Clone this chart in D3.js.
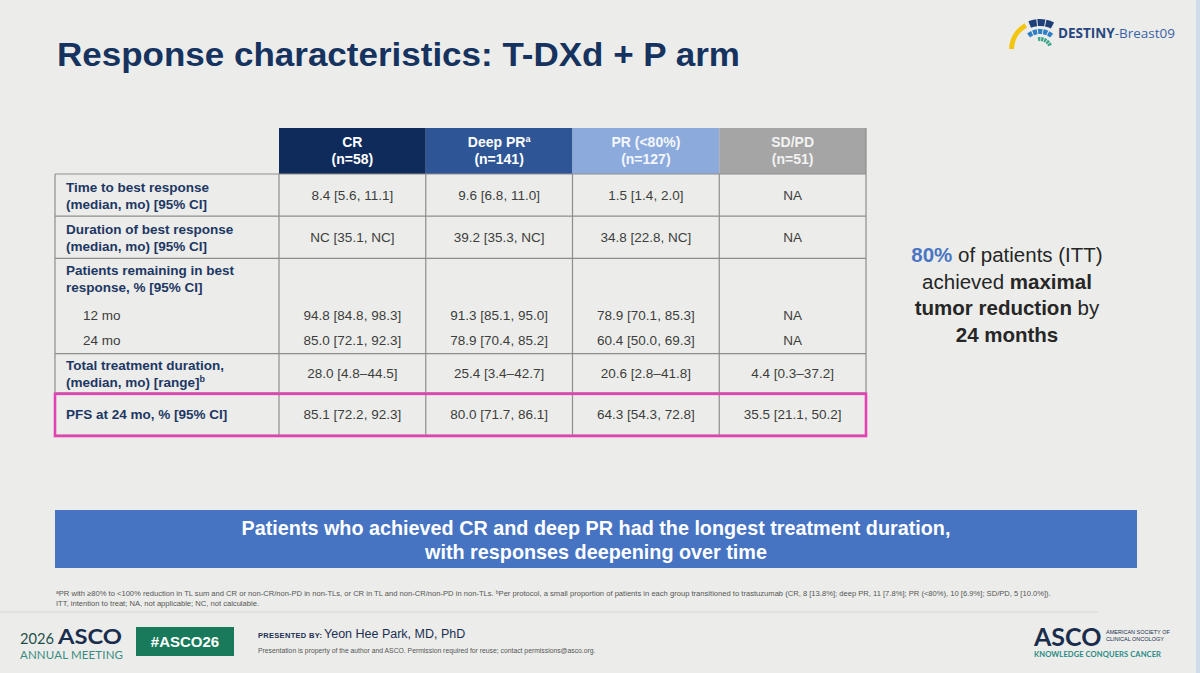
<!DOCTYPE html>
<html>
<head>
<meta charset="utf-8">
<script src="https://cdn.jsdelivr.net/npm/d3@7/dist/d3.min.js"></script>
<style>
  html, body { margin: 0; padding: 0; background: #ecedea; }
  svg { display: block; font-family: "Liberation Sans", Arial, sans-serif; }
</style>
</head>
<body>
<script>
// ---- data ----
var groups = ["CR", "Deep PR", "PR (<80%)", "SD/PD"];
var groupSup = ["", "a", "", ""];
var groupN = [58, 141, 127, 51];
var headerColors = ["#0f2b5b", "#2e5596", "#8caadb", "#a5a5a5"];
var headerText = ["#ffffff", "#ffffff", "#f4f7fc", "#f2f2f2"];

var timeToBest = ["8.4 [5.6, 11.1]", "9.6 [6.8, 11.0]", "1.5 [1.4, 2.0]", "NA"];
var durationBest = ["NC [35.1, NC]", "39.2 [35.3, NC]", "34.8 [22.8, NC]", "NA"];
var remain12 = ["94.8 [84.8, 98.3]", "91.3 [85.1, 95.0]", "78.9 [70.1, 85.3]", "NA"];
var remain24 = ["85.0 [72.1, 92.3]", "78.9 [70.4, 85.2]", "60.4 [50.0, 69.3]", "NA"];
var totalDuration = ["28.0 [4.8\u201344.5]", "25.4 [3.4\u201342.7]", "20.6 [2.8\u201341.8]", "4.4 [0.3\u201337.2]"];
var pfs24 = ["85.1 [72.2, 92.3]", "80.0 [71.7, 86.1]", "64.3 [54.3, 72.8]", "35.5 [21.1, 50.2]"];

var rowLabels = [
  ["Time to best response", "(median, mo) [95% CI]"],
  ["Duration of best response", "(median, mo) [95% CI]"],
  ["Patients remaining in best", "response, % [95% CI]"],
  ["Total treatment duration,", "(median, mo) [range]"],
  ["PFS at 24 mo, % [95% CI]"]
];
var subLabels = ["12 mo", "24 mo"];

// ---- layout ----
var W = 1200, H = 673;
var tableLeft = 55, labelRight = 279, tableRight = 866;
var headTop = 128, headBottom = 174;
// relative row heights (in "line" units)
var rowUnits = [2, 2, 4.52, 1.86, 2];

var svg = d3.select("body").append("svg")
    .attr("width", W).attr("height", H);

svg.append("rect").attr("width", W).attr("height", H).attr("fill", "#ecedea");
// faint blue edge on the right
svg.append("rect").attr("x", W - 4).attr("y", 0).attr("width", 4).attr("height", H)
    .attr("fill", "#bcd0ea").attr("opacity", 0.6);

// title
svg.append("text")
    .attr("x", 57).attr("y", 66)
    .attr("font-size", 33).attr("font-weight", "bold")
    .attr("fill", "#16325f")
    .attr("textLength", 683).attr("lengthAdjust", "spacingAndGlyphs")
    .text("Response characteristics: T-DXd + P arm");

// DESTINY-Breast09 logo
var logo = svg.append("g").attr("transform", "translate(1040,50)");
var arc = d3.arc();
var deg = Math.PI / 180;
logo.append("path").attr("d", arc({innerRadius: 26, outerRadius: 31, startAngle: -88 * deg, endAngle: -30 * deg})).attr("fill", "#f2c511");
[-22, -5, 12].forEach(function (a) {
  logo.append("path").attr("d", arc({innerRadius: 24, outerRadius: 31, startAngle: a * deg, endAngle: (a + 15) * deg})).attr("fill", "#1f3f7a");
});
[-38, -22, -6, 10, 26].forEach(function (a) {
  logo.append("path").attr("d", arc({innerRadius: 16, outerRadius: 21, startAngle: a * deg, endAngle: (a + 13) * deg})).attr("fill", "#2f7fc4");
});
[-10, 6, 22, 38, 54].forEach(function (a) {
  logo.append("path").attr("d", arc({innerRadius: 9, outerRadius: 13, startAngle: a * deg, endAngle: (a + 12) * deg})).attr("fill", "#3aa58a");
});
var lt = svg.append("text").attr("x", 1058).attr("y", 38)
    .attr("font-family", "'Open Sans', sans-serif").attr("font-size", 13.5);
lt.append("tspan").attr("font-weight", "bold").attr("fill", "#27477f").text("DESTINY");
lt.append("tspan").attr("fill", "#3b63a5").text("-Breast09");

// ---- table ----
var x = d3.scaleBand().domain(groups).range([labelRight, tableRight]).paddingInner(0);
var cumUnits = [0];
rowUnits.forEach(function (u, i) { cumUnits.push(cumUnits[i] + u); });
var y = d3.scaleLinear().domain([0, d3.sum(rowUnits)]).range([headBottom, 435]);

var table = svg.append("g");

// header cells
var head = table.selectAll("g.head").data(groups).enter().append("g").attr("class", "head");
head.append("rect")
    .attr("x", function (d) { return x(d); })
    .attr("y", headTop)
    .attr("width", x.bandwidth())
    .attr("height", headBottom - headTop)
    .attr("fill", function (d, i) { return headerColors[i]; });
var ht = head.append("text")
    .attr("text-anchor", "middle")
    .attr("font-size", 14).attr("font-weight", "bold")
    .attr("fill", function (d, i) { return headerText[i]; });
ht.append("tspan")
    .attr("x", function (d) { return x(d) + x.bandwidth() / 2; })
    .attr("y", headTop + 19)
    .text(function (d) { return d; })
  .append("tspan")
    .attr("font-size", 9).attr("dy", -5)
    .text(function (d, i) { return groupSup[i]; });
ht.append("tspan")
    .attr("x", function (d) { return x(d) + x.bandwidth() / 2; })
    .attr("y", headTop + 36)
    .text(function (d, i) { return "(n=" + groupN[i] + ")"; });

// grid lines
var lineColor = "#8d8d8d";
var hLines = cumUnits.map(function (u) { return y(u); });
table.selectAll("line.h").data(hLines).enter().append("line")
    .attr("x1", tableLeft).attr("x2", tableRight)
    .attr("y1", function (d) { return d; }).attr("y2", function (d) { return d; })
    .attr("stroke", lineColor).attr("stroke-width", 1.2);
var vLines = [tableLeft].concat(groups.map(function (g) { return x(g); }));
table.selectAll("line.v").data(vLines).enter().append("line")
    .attr("x1", function (d) { return d; }).attr("x2", function (d) { return d; })
    .attr("y1", headBottom).attr("y2", y(cumUnits[cumUnits.length - 1]))
    .attr("stroke", lineColor).attr("stroke-width", 1.2);
table.append("line")
    .attr("x1", tableRight).attr("x2", tableRight)
    .attr("y1", headTop).attr("y2", y(cumUnits[cumUnits.length - 1]))
    .attr("stroke", lineColor).attr("stroke-width", 1.2);

// row labels
var labelColor = "#1d3764", valueColor = "#3d3d3d";
rowLabels.forEach(function (lines, r) {
  var top = y(cumUnits[r]);
  var t = table.append("text")
      .attr("font-size", 13.5).attr("font-weight", "bold").attr("fill", labelColor);
  var firstBase = (r === 2) ? top + 17 : (lines.length === 1 ? (top + y(cumUnits[r + 1])) / 2 + 5 : (top + y(cumUnits[r + 1])) / 2 - 3);
  lines.forEach(function (s, i) {
    var sp = t.append("tspan").attr("x", 66).attr("y", firstBase + i * 16.5).text(s);
    if (r === 3 && i === 1) sp.append("tspan").attr("font-size", 9).attr("dy", -5).text("b");
  });
});

// value cells
function valueRow(vals, cy) {
  table.append("g").selectAll("text").data(vals).enter().append("text")
      .attr("x", function (d, i) { return x(groups[i]) + x.bandwidth() / 2; })
      .attr("y", cy + 5)
      .attr("text-anchor", "middle")
      .attr("font-size", 13.5).attr("fill", valueColor)
      .text(function (d) { return d; });
}
function mid(r) { return (y(cumUnits[r]) + y(cumUnits[r + 1])) / 2; }
valueRow(timeToBest, mid(0));
valueRow(durationBest, mid(1));
var r3top = y(cumUnits[2]);
valueRow(remain12, r3top + 57);
valueRow(remain24, r3top + 82);
valueRow(totalDuration, mid(3));
valueRow(pfs24, mid(4));

subLabels.forEach(function (s, i) {
  table.append("text").attr("x", 83).attr("y", r3top + 62 + i * 25)
      .attr("font-size", 13.5).attr("fill", valueColor).text(s);
});

// highlight box around PFS row
table.append("rect")
    .attr("x", tableLeft).attr("y", y(cumUnits[4]) + 1)
    .attr("width", tableRight - tableLeft).attr("height", y(cumUnits[5]) - y(cumUnits[4]))
    .attr("fill", "none").attr("stroke", "#e441b5").attr("stroke-width", 2.6);

// right-side callout
var call = svg.append("text").attr("text-anchor", "middle").attr("font-size", 20.5).attr("fill", "#262626");
var c1 = call.append("tspan").attr("x", 1007).attr("y", 262);
c1.append("tspan").attr("font-weight", "bold").attr("fill", "#4a75c2").text("80%");
c1.append("tspan").text(" of patients (ITT)");
var c2 = call.append("tspan").attr("x", 1007).attr("y", 288.5);
c2.append("tspan").text("achieved ");
c2.append("tspan").attr("font-weight", "bold").text("maximal");
var c3 = call.append("tspan").attr("x", 1007).attr("y", 315);
c3.append("tspan").attr("font-weight", "bold").text("tumor reduction");
c3.append("tspan").text(" by");
call.append("tspan").attr("x", 1007).attr("y", 341.5).attr("font-weight", "bold").text("24 months");

// conclusion banner
svg.append("rect").attr("x", 55).attr("y", 510).attr("width", 1082).attr("height", 58).attr("fill", "#4673c2");
var bt = svg.append("text").attr("text-anchor", "middle").attr("font-size", 19.8)
    .attr("font-weight", "bold").attr("fill", "#ffffff");
bt.append("tspan").attr("x", 596).attr("y", 535)
    .text("Patients who achieved CR and deep PR had the longest treatment duration,");
bt.append("tspan").attr("x", 596).attr("y", 559)
    .text("with responses deepening over time");

// footnotes
var fn = svg.append("text").attr("font-size", 7.6).attr("fill", "#555555");
var f1 = fn.append("tspan").attr("x", 56).attr("y", 596);
f1.append("tspan").attr("font-size", 5).attr("dy", -2.5).text("a");
f1.append("tspan").attr("dy", 2.5).text("PR with \u226580% to <100% reduction in TL sum and CR or non-CR/non-PD in non-TLs, or CR in TL and non-CR/non-PD in non-TLs. ");
f1.append("tspan").attr("font-size", 5).attr("dy", -2.5).text("b");
f1.append("tspan").attr("dy", 2.5).text("Per protocol, a small proportion of patients in each group transitioned to trastuzumab (CR, 8 [13.8%]; deep PR, 11 [7.8%]; PR (<80%), 10 [6.9%]; SD/PD, 5 [10.0%]).");
fn.append("tspan").attr("x", 56).attr("y", 606).text("ITT, intention to treat; NA, not applicable; NC, not calculable.");

svg.append("line").attr("x1", 0).attr("x2", 1098).attr("y1", 612).attr("y2", 612)
    .attr("stroke", "#d6d7d4").attr("stroke-width", 1);

// footer: meeting logo
svg.append("text").attr("x", 20).attr("y", 644).attr("font-family", "Lato, 'Open Sans', sans-serif")
    .attr("font-size", 15).attr("fill", "#1f4f4a")
    .attr("textLength", 34).attr("lengthAdjust", "spacingAndGlyphs").text("2026");
svg.append("text").attr("x", 58).attr("y", 644).attr("font-family", "Lato, 'Open Sans', sans-serif")
    .attr("font-size", 21).attr("font-weight", "bold").attr("fill", "#1a2d4d")
    .attr("textLength", 64).attr("lengthAdjust", "spacingAndGlyphs").text("ASCO");
svg.append("text").attr("x", 20).attr("y", 659).attr("font-family", "Lato, 'Open Sans', sans-serif")
    .attr("font-size", 11.5).attr("fill", "#3a8c80").attr("textLength", 103).text("ANNUAL MEETING");

svg.append("rect").attr("x", 136).attr("y", 627).attr("width", 98).attr("height", 29).attr("fill", "#187a5b");
svg.append("text").attr("x", 185).attr("y", 647).attr("text-anchor", "middle")
    .attr("font-size", 15).attr("font-weight", "bold").attr("fill", "#ffffff").text("#ASCO26");

svg.append("text").attr("x", 258).attr("y", 638).attr("font-size", 7.5).attr("font-weight", "bold")
    .attr("fill", "#1c2f52").attr("letter-spacing", 0.3).text("PRESENTED BY:");
svg.append("text").attr("x", 324).attr("y", 638).attr("font-size", 12.5).attr("fill", "#1c2f52")
    .text("Yeon Hee Park, MD, PhD");
svg.append("text").attr("x", 258).attr("y", 653).attr("font-size", 6.8).attr("fill", "#555555")
    .text("Presentation is property of the author and ASCO. Permission required for reuse; contact permissions@asco.org.");

// footer: ASCO society logo
svg.append("text").attr("x", 1034).attr("y", 646).attr("font-family", "Lato, 'Open Sans', sans-serif")
    .attr("font-size", 25).attr("font-weight", "bold").attr("fill", "#1a2d4d").text("ASCO");
svg.append("text").attr("x", 1106).attr("y", 634).attr("font-size", 5.5).attr("fill", "#1a2d4d").text("AMERICAN SOCIETY OF");
svg.append("text").attr("x", 1106).attr("y", 641).attr("font-size", 5.5).attr("fill", "#1a2d4d").text("CLINICAL ONCOLOGY");
svg.append("text").attr("x", 1034).attr("y", 657).attr("font-family", "Lato, 'Open Sans', sans-serif")
    .attr("font-size", 7.6).attr("font-weight", "bold").attr("fill", "#2a8a86")
    .attr("textLength", 127).text("KNOWLEDGE CONQUERS CANCER");
</script>
</body>
</html>
